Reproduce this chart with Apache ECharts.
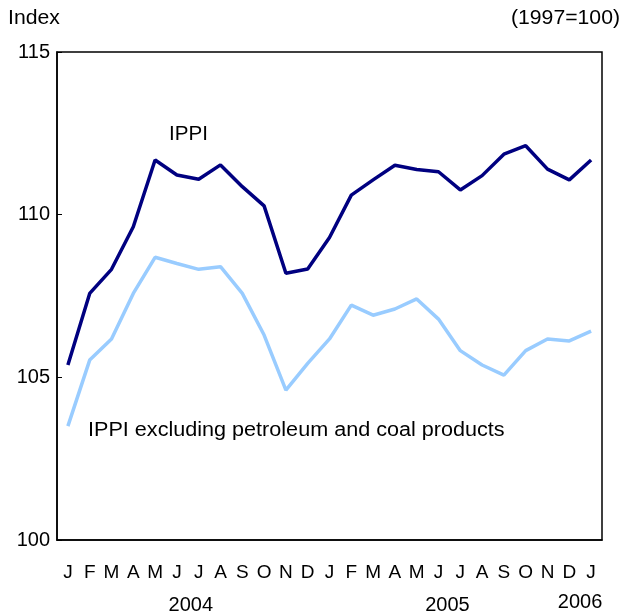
<!DOCTYPE html>
<html><head><meta charset="utf-8">
<script src="https://cdn.jsdelivr.net/npm/echarts@6/dist/echarts.min.js"></script>
<style>html,body{margin:0;padding:0;background:#fff}#c{width:623px;height:614px}</style>
</head><body><div id="c"></div>
<script>
const months = ['J','F','M','A','M','J','J','A','S','O','N','D','J','F','M','A','M','J','J','A','S','O','N','D','J'];
const ippi = [105.38,107.58,108.32,109.63,111.68,111.22,111.09,111.53,110.86,110.27,108.2,108.33,109.3,110.6,111.07,111.52,111.39,111.32,110.76,111.2,111.86,112.12,111.4,111.07,111.68];
const ippiEx = [103.5,105.53,106.18,107.58,108.69,108.5,108.32,108.4,107.58,106.3,104.61,105.43,106.18,107.22,106.91,107.1,107.41,106.79,105.82,105.38,105.07,105.82,106.18,106.12,106.42];
const yTicks = [100,105,110,115];
const years = [{label:'2004', between:[5,6]},{label:'2005', between:[17,18]},{label:'2006', between:[24,24]}];
const yearOffset = [[3,605],[-2,605],[-11,602]];
const FONT = 'Liberation Sans, Arial, sans-serif';
const chart = echarts.init(document.getElementById('c'));
chart.setOption({
  animation:false,
  grid:{left:57,right:21,top:52,bottom:74,show:true,borderColor:'#000',borderWidth:1.5,backgroundColor:'transparent'},
  xAxis:{type:'category',data:months,boundaryGap:true,
    axisLine:{lineStyle:{color:'#000',width:1.5}},
    axisTick:{inside:true,length:5,lineStyle:{color:'#000',width:1}},
    axisLabel:{color:'#000',fontSize:19,fontFamily:FONT,margin:23,interval:0}},
  yAxis:{type:'value',min:100,max:115,interval:5,
    axisLine:{show:true,lineStyle:{color:'#000',width:1.5}},
    axisTick:{show:true,inside:true,length:5,lineStyle:{color:'#000',width:1}},
    splitLine:{show:false},
    axisLabel:{color:'#000',fontSize:20,fontFamily:FONT,margin:7,formatter:v=>yTicks.includes(v)?String(v):''}},
  series:[
    {type:'line',data:ippi,symbol:'none',lineStyle:{color:'#000080',width:3.5},z:3},
    {type:'line',data:ippiEx,symbol:'none',lineStyle:{color:'#99ccff',width:3.5},z:2}
  ]
});
const st = (t, extra) => Object.assign({text:t,fontSize:20,fontFamily:FONT,fill:'#000',verticalAlign:'middle'}, extra||{});
const g = [
  {type:'text',x:8,y:18,scaleX:1.06,style:st('Index')},
  {type:'text',x:620,y:18,scaleX:1.06,style:st('(1997=100)',{align:'right'})},
  {type:'text',x:169,y:134,scaleX:1.03,style:st('IPPI')},
  {type:'text',x:88,y:430,scaleX:1.08,style:st('IPPI excluding petroleum and coal products')}
];
years.forEach((y,i)=>{
  const a = chart.convertToPixel({xAxisIndex:0}, y.between[0]);
  const b = chart.convertToPixel({xAxisIndex:0}, y.between[1]);
  const cx = (a+b)/2;
  g.push({type:'text',x:cx+yearOffset[i][0],y:yearOffset[i][1],style:st(y.label,{align:'center'})});
});
chart.setOption({graphic:g});
</script></body></html>
